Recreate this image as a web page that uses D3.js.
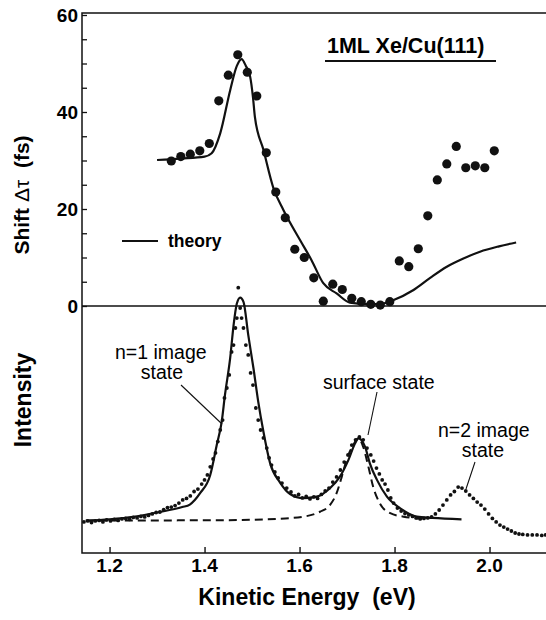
<!DOCTYPE html>
<html><head><meta charset="utf-8">
<script src="https://cdn.jsdelivr.net/npm/d3@7/dist/d3.min.js"></script>
<style>
body{margin:0;background:#fff}
svg{display:block}
text{font-family:"Liberation Sans",Arial,Helvetica,sans-serif;fill:#000}
</style>
</head><body>
<svg id="chart" width="546" height="620"></svg>
<script>
// ---- data ----
const shiftEnergy = [1.33,1.35,1.37,1.39,1.41,1.43,1.45,1.47,1.49,1.51,1.53,1.55,1.57,1.59,1.61,1.63,1.65,1.67,1.69,1.71,1.73,1.75,1.77,1.79,1.81,1.83,1.85,1.87,1.89,1.91,1.93,1.95,1.97,1.99,2.01];
const shiftValues = [29.9,30.8,31.3,32.0,33.5,42.3,47.6,51.8,48.2,43.3,31.6,23.5,18.2,11.7,10.0,5.8,1.0,4.5,3.4,1.6,0.9,0.35,0.2,0.9,9.3,8.1,11.8,18.6,26.0,29.3,32.9,28.5,28.9,28.5,32.0];

const theoryEnergy = [1.300,1.350,1.400,1.415,1.433,1.454,1.468,1.478,1.487,1.496,1.502,1.506,1.524,1.545,1.566,1.601,1.625,1.650,1.678,1.706,1.740,1.769,1.797,1.840,1.875,1.910,1.945,1.980,2.020,2.056];
const theoryValues = [30.1,30.4,30.8,31.5,35.6,44.5,49.5,50.9,49.5,47.3,43.0,39.0,32.2,24.3,19.8,13.6,9.5,4.7,2.6,0.7,0.4,0.4,1.2,3.3,5.8,8.1,9.8,11.2,12.3,13.1];

const spectrumEnergy = [1.146,1.154,1.162,1.170,1.178,1.186,1.194,1.202,1.210,1.218,1.226,1.234,1.242,1.250,1.258,1.266,1.274,1.282,1.290,1.298,1.306,1.314,1.322,1.330,1.338,1.346,1.354,1.362,1.370,1.378,1.386,1.394,1.400,1.406,1.412,1.418,1.423,1.428,1.433,1.438,1.442,1.447,1.452,1.457,1.461,1.465,1.468,1.471,1.475,1.478,1.482,1.487,1.492,1.497,1.502,1.508,1.513,1.518,1.524,1.531,1.536,1.541,1.548,1.555,1.563,1.573,1.582,1.590,1.598,1.606,1.614,1.622,1.630,1.638,1.646,1.654,1.662,1.670,1.678,1.686,1.694,1.702,1.710,1.718,1.726,1.734,1.742,1.750,1.756,1.762,1.768,1.774,1.780,1.786,1.792,1.798,1.806,1.814,1.822,1.830,1.838,1.846,1.854,1.862,1.870,1.878,1.886,1.894,1.902,1.910,1.918,1.926,1.934,1.942,1.950,1.958,1.966,1.974,1.982,1.990,1.998,2.006,2.014,2.022,2.030,2.038,2.046,2.054,2.062,2.070,2.080,2.090,2.100,2.110,2.118];
const spectrumValues = [12.6,13.0,12.3,13.0,13.2,12.6,13.4,13.0,13.6,13.2,13.8,14.0,13.6,14.4,14.2,14.8,14.6,15.2,15.8,16.4,16.6,17.6,18.4,18.6,19.2,20.2,21.5,22.1,23.1,24.9,25.9,27.9,29.6,31.6,34.9,38.1,40.5,45.1,49.8,53.8,62.8,66.8,72.1,81.4,84.2,91.1,95.1,107.4,99.2,95.1,91.1,84.2,80.2,72.9,68.0,58.7,53.8,49.8,46.6,42.5,38.5,35.6,32.8,30.4,28.3,26.3,24.7,23.1,23.7,22.3,22.9,21.9,22.7,22.1,23.7,25.1,26.3,28.7,30.8,33.6,36.8,39.7,43.7,45.8,47.0,45.8,42.5,39.7,37.2,34.4,32.0,29.6,27.9,25.5,22.3,20.2,18.2,17.0,16.0,15.4,14.8,14.2,13.8,14.0,14.2,14.6,15.8,17.4,19.4,21.5,23.5,24.9,26.7,26.3,25.1,23.5,22.1,20.6,19.4,17.8,15.8,14.0,12.6,11.3,10.5,9.7,8.9,8.1,7.7,7.5,7.3,7.3,7.3,7.1,7.3];

const fitEnergy = [1.150,1.200,1.250,1.300,1.353,1.369,1.391,1.412,1.426,1.436,1.443,1.454,1.461,1.468,1.475,1.482,1.492,1.503,1.513,1.524,1.538,1.559,1.580,1.608,1.636,1.664,1.685,1.703,1.717,1.724,1.738,1.748,1.763,1.784,1.812,1.847,1.880,1.941];
const fitValues = [13.0,13.6,14.6,16.4,18.6,19.6,24.3,31.6,44.0,53.0,64.0,79.0,92.0,101.0,103.4,101.7,88.3,74.8,61.3,49.1,36.4,28.5,23.9,22.2,22.8,26.2,30.9,37.7,44.4,46.4,43.0,36.3,29.6,22.8,18.1,14.7,14.2,13.6];

const surfaceEnergy = [1.150,1.300,1.450,1.550,1.608,1.643,1.664,1.678,1.689,1.699,1.713,1.724,1.734,1.745,1.755,1.769,1.791,1.819,1.868];
const surfaceValues = [13.2,13.2,13.3,13.8,14.7,16.7,19.4,24.2,30.9,37.7,43.7,46.4,43.0,34.9,26.8,20.1,16.1,14.7,13.8];

const energyTicks = [1.2,1.4,1.6,1.8,2.0];
const shiftTicks = [0,20,40,60];
const shiftMinorTicks = [0,5,10,15,20,25,30,35,40,45,50,55,60];

// ---- layout ----
const svg = d3.select("#chart");
const frame = {left:82, right:547, top:13, bottom:553};
const x = d3.scaleLinear().domain([1.142, 2.121]).range([frame.left, frame.right]);
const yShift = d3.scaleLinear().domain([0, 60]).range([306, 15]);
const yInt = d3.scaleLinear().domain([0, 100]).range([frame.bottom, 306]);

const ink = "#111";

// frame
svg.append("rect").attr("x",frame.left).attr("y",frame.top)
  .attr("width",frame.right-frame.left).attr("height",frame.bottom-frame.top)
  .attr("fill","none").attr("stroke",ink).attr("stroke-width",1.5);
// zero line
svg.append("line").attr("x1",frame.left).attr("x2",frame.right)
  .attr("y1",yShift(0)).attr("y2",yShift(0)).attr("stroke",ink).attr("stroke-width",1.5);

// bottom axis (ticks inward)
const xAxis = d3.axisTop(x).tickValues(energyTicks).tickSize(6).tickFormat("");
const gx = svg.append("g").attr("transform",`translate(0,${frame.bottom})`).call(xAxis);
gx.select(".domain").remove();
gx.selectAll("line").attr("stroke",ink).attr("stroke-width",1.4);
svg.append("g").selectAll("text").data(energyTicks).join("text")
  .attr("x",d=>x(d)).attr("y",frame.bottom+19).attr("text-anchor","middle")
  .style("font-size","19px").style("font-weight","bold").text(d3.format(".1f"));

// left axis ticks (inward)
const yAxis = d3.axisRight(yShift).tickValues(shiftMinorTicks).tickSize(5).tickFormat("");
const gy = svg.append("g").attr("transform",`translate(${frame.left},0)`).call(yAxis);
gy.select(".domain").remove();
gy.selectAll("line").attr("stroke",ink).attr("stroke-width",1.3);
svg.append("g").selectAll("text").data(shiftTicks).join("text")
  .attr("x",frame.left-4).attr("y",d=>yShift(d)).attr("dy","0.36em").attr("text-anchor","end")
  .style("font-size","19px").style("font-weight","bold").text(d=>d);

// axis titles
svg.append("text").attr("x",307).attr("y",605).attr("text-anchor","middle")
  .style("font-size","23px").style("font-weight","bold").style("white-space","pre")
  .text("Kinetic Energy  (eV)");
const st = svg.append("text").attr("transform","translate(29,195) rotate(-90)")
  .attr("text-anchor","middle").style("font-size","21px").style("font-weight","bold").style("white-space","pre");
st.append("tspan").text("Shift ");
st.append("tspan").style("font-weight","normal").text("Δτ");
st.append("tspan").text("  (fs)");
svg.append("text").attr("transform","translate(31,400) rotate(-90)")
  .attr("text-anchor","middle").style("font-size","23px").style("font-weight","bold").text("Intensity");

// title
svg.append("text").attr("x",327).attr("y",53)
  .style("font-size","21.5px").style("font-weight","bold").text("1ML Xe/Cu(111)");
svg.append("line").attr("x1",325).attr("x2",496).attr("y1",61).attr("y2",61)
  .attr("stroke",ink).attr("stroke-width",2);

// theory legend
svg.append("line").attr("x1",122).attr("x2",158).attr("y1",241).attr("y2",241)
  .attr("stroke",ink).attr("stroke-width",2);
svg.append("text").attr("x",168).attr("y",247)
  .style("font-size","17.5px").style("font-weight","bold").text("theory");

// ---- top panel ----
const theoryData = theoryEnergy.map((e,i)=>[e,theoryValues[i]]);
svg.append("path").datum(theoryData)
  .attr("d",d3.line().x(d=>x(d[0])).y(d=>yShift(d[1])).curve(d3.curveMonotoneX))
  .attr("fill","none").attr("stroke",ink).attr("stroke-width",2.2);
svg.append("g").selectAll("circle").data(shiftEnergy).join("circle")
  .attr("cx",d=>x(d)).attr("cy",(d,i)=>yShift(shiftValues[i])).attr("r",4.6).attr("fill",ink);

// ---- bottom panel ----
const surfData = surfaceEnergy.map((e,i)=>[e,surfaceValues[i]]);
svg.append("path").datum(surfData)
  .attr("d",d3.line().x(d=>x(d[0])).y(d=>yInt(d[1])).curve(d3.curveMonotoneX))
  .attr("fill","none").attr("stroke",ink).attr("stroke-width",2).attr("stroke-dasharray","8,5");
const fitData = fitEnergy.map((e,i)=>[e,fitValues[i]]);
svg.append("path").datum(fitData)
  .attr("d",d3.line().x(d=>x(d[0])).y(d=>yInt(d[1])).curve(d3.curveMonotoneX))
  .attr("fill","none").attr("stroke",ink).attr("stroke-width",2.2);
svg.append("g").selectAll("circle").data(spectrumEnergy).join("circle")
  .attr("cx",d=>x(d)).attr("cy",(d,i)=>yInt(spectrumValues[i])).attr("r",1.9).attr("fill",ink);

// annotations
function label(lines, xs, ys, anchor){
  lines.forEach((t,i)=>svg.append("text").attr("x",xs[i]).attr("y",ys[i]).attr("text-anchor",anchor[i])
    .style("font-size","19.5px").text(t));
}
label(["n=1 image","state"],[115,162],[359,379],["start","middle"]);
label(["surface state"],[323],[389],["start"]);
label(["n=2 image","state"],[438,483],[437,457],["start","middle"]);
const leaders = [[181,385,222,424],[377,392,368,435],[475,462,466,489]];
svg.append("g").selectAll("line").data(leaders).join("line")
  .attr("x1",d=>d[0]).attr("y1",d=>d[1]).attr("x2",d=>d[2]).attr("y2",d=>d[3])
  .attr("stroke",ink).attr("stroke-width",1.1);
</script>
</body></html>
